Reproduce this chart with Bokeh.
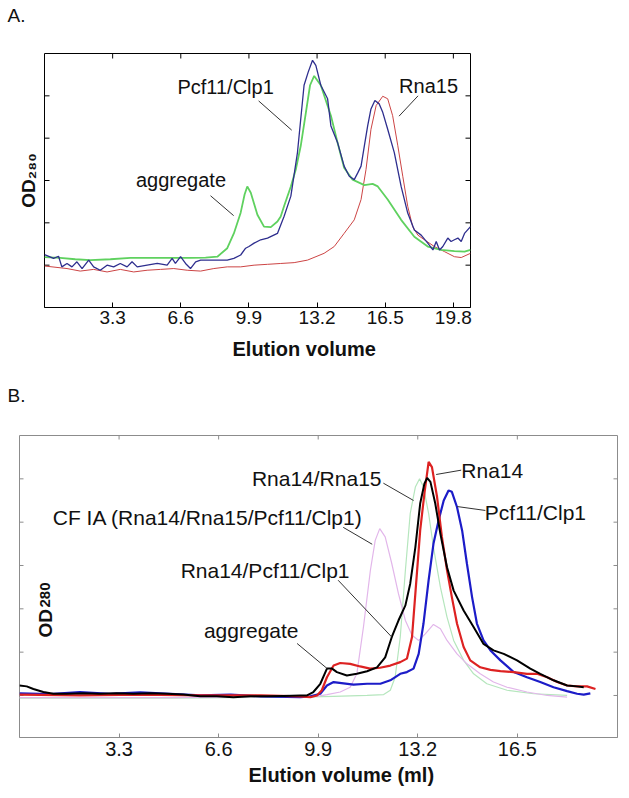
import math
from bokeh.plotting import figure
from bokeh.layouts import column
from bokeh.models import Label, Title, FixedTicker, Range1d
from bokeh.embed import file_html
from bokeh.resources import INLINE

FONT = "Liberation Sans"

# ---------------- Panel A data ----------------
A_x_range = (0.0, 20.63)
A_y_range = (-1.0, 5.0)
A_ticks_x = [3.3, 6.6, 9.9, 13.2, 16.5, 19.8]
A_tick_labels = ["3.3", "6.6", "9.9", "13.2", "16.5", "19.8"]
A_ticks_y = [0, 1, 2, 3, 4]

A_green_x = [0.0, 0.76, 1.49, 2.22, 3.19, 4.16, 5.13, 6.10, 7.07, 7.80, 8.37, 8.85, 9.17, 9.50, 9.69,
             9.82, 9.99, 10.31, 10.63, 10.96, 11.28, 11.44, 11.60, 11.93, 12.17, 12.41, 12.66, 12.86, 13.06, 13.38,
             13.87, 14.19, 14.51, 14.92, 15.49, 15.89, 16.14, 16.62, 17.27, 17.91, 18.56, 19.21, 19.85, 20.34, 20.63]
A_green_y = [0.19, 0.17, 0.14, 0.12, 0.14, 0.17, 0.17, 0.17, 0.17, 0.18, 0.20, 0.40, 0.75, 1.24, 1.67,
             1.86, 1.71, 1.19, 0.91, 0.90, 1.03, 1.15, 1.39, 1.86, 2.26, 2.82, 3.61, 4.25, 4.47, 4.25,
             3.53, 2.90, 2.30, 2.02, 1.89, 1.92, 1.86, 1.55, 1.07, 0.67, 0.44, 0.36, 0.33, 0.32, 0.36]

A_blue_x = [0.0, 0.44, 0.68, 0.84, 1.09, 1.33, 1.57, 1.82, 2.14, 2.38, 2.70, 3.03, 3.35, 3.67, 4.00,
            4.24, 4.49, 4.97, 5.46, 5.94, 6.18, 6.34, 6.59, 6.83, 7.07, 7.32, 7.56, 8.20, 8.85, 9.17,
            9.50, 9.74, 9.90, 10.15, 10.47, 10.80, 11.28, 11.60, 11.93, 12.25, 12.57, 12.77, 12.98, 13.14, 13.38,
            13.71, 13.87, 14.19, 14.51, 14.76, 15.00, 15.17, 15.33, 15.49, 15.65, 15.81, 16.00, 16.21, 16.38, 16.62,
            16.94, 17.27, 17.59, 17.91, 18.24, 18.56, 18.81, 18.97, 19.13, 19.29, 19.53, 19.69, 19.85, 20.02, 20.18,
            20.34, 20.63]
A_blue_y = [0.25, 0.16, 0.21, -0.04, 0.04, -0.04, 0.08, -0.08, 0.12, -0.04, -0.12, 0.00, -0.04, 0.04, -0.04,
            0.08, -0.04, 0.00, 0.04, 0.00, 0.16, 0.04, 0.20, 0.04, -0.08, 0.08, 0.12, 0.12, 0.12, 0.16,
            0.24, 0.40, 0.44, 0.52, 0.60, 0.64, 0.75, 1.15, 1.63, 2.66, 4.25, 4.56, 4.84, 4.72, 4.25,
            3.93, 3.29, 2.90, 2.34, 2.10, 2.02, 2.18, 2.34, 2.82, 3.29, 3.69, 3.89, 3.81, 3.61, 3.21,
            2.66, 1.86, 1.23, 0.83, 0.71, 0.52, 0.36, 0.56, 0.36, 0.44, 0.64, 0.56, 0.60, 0.64, 0.56,
            0.75, 0.91]

A_red_x = [0.0, 1.09, 1.73, 2.38, 3.03, 3.67, 4.32, 4.97, 5.62, 6.26, 6.91, 7.56, 8.20, 8.85, 9.50,
           10.15, 10.80, 11.44, 12.09, 12.74, 13.54, 14.03, 14.51, 15.00, 15.33, 15.57, 15.81, 16.06, 16.38, 16.62,
           16.86, 17.11, 17.35, 17.59, 17.83, 18.08, 18.40, 18.88, 19.37, 19.85, 20.18, 20.63]
A_red_y = [-0.02, -0.08, -0.14, -0.10, -0.16, -0.10, -0.16, -0.12, -0.10, -0.08, -0.12, -0.14, -0.08, -0.04, -0.04,
           0.00, 0.02, 0.04, 0.06, 0.12, 0.28, 0.44, 0.75, 1.07, 1.55, 2.26, 3.21, 3.77, 3.99, 3.93,
           3.53, 2.82, 2.10, 1.39, 0.91, 0.71, 0.60, 0.44, 0.32, 0.20, 0.18, 0.28]

A_ann_text = ["Pcf11/Clp1", "aggregate", "Rna15"]
A_ann_x = [8.77, 6.61, 18.60]
A_ann_y = [4.21, 2.02, 4.24]
A_lead_x0 = [10.37, 8.04, 18.09]
A_lead_y0 = [3.88, 1.64, 4.00]
A_lead_x1 = [11.97, 9.16, 17.17]
A_lead_y1 = [3.19, 1.17, 3.52]

# ---------------- Panel B data ----------------
B_x_range = (0.0, 19.82)
B_y_range = (-0.97, 6.0)
B_ticks_x = [3.3, 6.6, 9.9, 13.2, 16.5]
B_tick_labels = ["3.3", "6.6", "9.9", "13.2", "16.5"]
B_ticks_y = [0, 1, 2, 3, 4, 5]

B_black_x = [0.0, 0.24, 0.46, 0.79, 1.12, 1.57, 2.12, 2.67, 3.22, 3.77, 4.33, 4.88, 5.43, 5.99, 6.54,
             7.09, 7.65, 8.20, 8.75, 9.30, 9.53, 9.74, 9.97, 10.19, 10.36, 10.52, 10.85, 11.18, 11.52, 11.85,
             12.12, 12.34, 12.56, 12.79, 12.95, 13.12, 13.28, 13.42, 13.51, 13.62, 13.78, 13.95, 14.17, 14.39, 14.72,
             15.05, 15.38, 15.71, 16.05, 16.49, 16.93, 17.26, 17.70, 18.15, 18.48, 18.70]
B_black_y = [0.23, 0.21, 0.15, 0.08, 0.04, 0.04, 0.05, 0.04, 0.05, 0.04, 0.05, 0.04, 0.02, -0.02, -0.02,
             -0.04, -0.02, -0.02, -0.01, 0.00, 0.00, 0.08, 0.27, 0.62, 0.62, 0.54, 0.46, 0.50, 0.56, 0.65,
             0.88, 1.35, 1.73, 2.08, 2.58, 3.42, 4.43, 4.89, 5.02, 4.93, 4.43, 3.73, 2.96, 2.42, 1.96,
             1.58, 1.19, 1.04, 0.96, 0.81, 0.62, 0.50, 0.35, 0.23, 0.21, 0.19]

B_red_x = [0.0, 2.0, 4.0, 6.0, 8.0, 9.30, 9.64, 9.86, 10.02, 10.19, 10.41, 10.63, 10.96, 11.29, 11.62,
           11.95, 12.29, 12.62, 12.84, 13.01, 13.12, 13.28, 13.42, 13.56, 13.67, 13.84, 14.00, 14.17, 14.33, 14.50,
           14.72, 14.94, 15.27, 15.61, 15.94, 16.38, 16.82, 17.15, 17.49, 17.82, 18.15, 18.48, 18.81, 19.09]
B_red_y = [0.02, 0.00, 0.02, 0.00, 0.00, -0.02, -0.04, 0.00, 0.12, 0.42, 0.69, 0.75, 0.73, 0.67, 0.62,
           0.64, 0.69, 0.77, 0.85, 1.35, 2.35, 3.81, 4.66, 5.39, 5.27, 4.58, 3.66, 2.89, 2.27, 1.66,
           1.12, 0.81, 0.65, 0.59, 0.56, 0.54, 0.50, 0.50, 0.42, 0.31, 0.23, 0.21, 0.21, 0.15]

B_blue_x = [0.0, 1.0, 2.0, 3.0, 4.0, 5.0, 6.0, 7.0, 8.0, 9.30, 9.64, 9.97, 10.19, 10.41, 10.74,
            11.07, 11.52, 11.96, 12.29, 12.62, 12.84, 13.06, 13.23, 13.39, 13.56, 13.72, 13.89, 14.06, 14.22, 14.33,
            14.50, 14.67, 14.83, 15.00, 15.16, 15.38, 15.61, 15.94, 16.38, 16.82, 17.26, 17.70, 18.15, 18.48, 18.70,
            18.92]
B_blue_y = [0.05, 0.03, 0.08, 0.04, 0.07, 0.04, 0.00, 0.02, -0.02, -0.04, -0.02, 0.04, 0.23, 0.31, 0.28,
            0.25, 0.27, 0.27, 0.35, 0.50, 0.54, 0.62, 0.96, 1.66, 2.66, 3.50, 4.04, 4.50, 4.73, 4.70,
            4.35, 3.81, 3.04, 2.27, 1.66, 1.27, 1.04, 0.81, 0.54, 0.42, 0.31, 0.19, 0.10, 0.04, 0.02,
            0.05]

B_pink_x = [0.0, 5.0, 9.30, 9.86, 10.19, 10.63, 10.96, 11.18, 11.40, 11.63, 11.79, 11.94, 12.12, 12.34, 12.56,
            12.79, 13.01, 13.23, 13.45, 13.72, 13.95, 14.17, 14.50, 14.83, 15.27, 15.71, 16.16, 16.82, 17.49, 18.15]
B_pink_y = [-0.05, -0.05, -0.02, -0.02, 0.02, 0.08, 0.19, 0.50, 1.58, 2.89, 3.58, 3.85, 3.66, 3.04, 2.35,
            1.73, 1.39, 1.27, 1.42, 1.64, 1.54, 1.27, 0.96, 0.73, 0.50, 0.31, 0.19, 0.08, 0.00, -0.04]

B_green_x = [0.0, 5.0, 9.30, 10.41, 11.52, 12.07, 12.29, 12.45, 12.62, 12.79, 12.95, 13.12, 13.26, 13.39, 13.56,
             13.72, 13.95, 14.17, 14.39, 14.72, 15.05, 15.49, 16.16, 17.04, 18.15]
B_green_y = [-0.06, -0.06, -0.04, -0.02, 0.00, 0.02, 0.12, 0.42, 1.35, 2.89, 4.20, 4.81, 5.00, 4.81, 4.20,
             3.42, 2.50, 1.81, 1.27, 0.81, 0.50, 0.27, 0.12, 0.04, 0.00]

B_ann_text = ["Rna14/Rna15", "Rna14", "Pcf11/Clp1", "CF IA (Rna14/Rna15/Pcf11/Clp1)", "Rna14/Pcf11/Clp1", "aggregate"]
B_ann_x = [9.85, 15.67, 17.10, 6.24, 8.14, 7.68]
B_ann_y = [5.01, 5.20, 4.23, 4.11, 2.89, 1.50]
B_lead_x0 = [12.06, 14.64, 15.44, 10.73, 10.56, 9.20]
B_lead_y0 = [4.90, 5.20, 4.27, 3.88, 2.66, 1.20]
B_lead_x1 = [13.06, 13.81, 14.51, 11.69, 12.35, 10.20]
B_lead_y1 = [4.50, 5.10, 4.36, 3.49, 1.34, 0.62]


def style_frame(p, xr, yr, xticks, xlabels, yticks, color, tick_len, label_size, standoff):
    ax = p.xaxis[0]
    ax.ticker = FixedTicker(ticks=xticks)
    ax.major_label_overrides = {t: l for t, l in zip(xticks, xlabels)}
    ax.axis_line_color = color
    ax.major_tick_line_color = color
    ax.major_tick_in = tick_len
    ax.major_tick_out = 0
    ax.minor_tick_line_color = None
    ax.major_label_text_font = FONT
    ax.major_label_text_font_size = label_size
    ax.major_label_text_color = "#111111"
    ax.major_label_standoff = standoff
    p.yaxis.visible = False
    p.xgrid.grid_line_color = None
    p.ygrid.grid_line_color = None
    p.outline_line_color = color
    # mirrored inward ticks on top, left and right (from the tick lists and ranges)
    p.ray(x=xticks, y=[yr[1]] * len(xticks), length=tick_len, length_units="screen",
          angle=-math.pi / 2, line_color=color, line_width=1)
    p.ray(x=[xr[0]] * len(yticks), y=yticks, length=tick_len, length_units="screen",
          angle=0.0, line_color=color, line_width=1)
    p.ray(x=[xr[1]] * len(yticks), y=yticks, length=tick_len, length_units="screen",
          angle=math.pi, line_color=color, line_width=1)


def lab(p, x, y, text, size="20px", style="normal", align="center", baseline="middle", angle=0.0):
    p.add_layout(Label(x=x, y=y, text=text, text_font=FONT, text_font_size=size,
                       text_font_style=style, text_align=align, text_baseline=baseline,
                       angle=angle, text_color="#111111"))


def title(p, text, loc, size, style="normal", align="center", offset=0, standoff=0, valign="bottom"):
    p.add_layout(Title(text=text, text_font=FONT, text_font_size=size, text_font_style=style,
                       text_color="#111111", align=align, offset=offset, standoff=standoff,
                       vertical_align=valign), loc)


def header(text, height, ypos):
    h = figure(width=100, height=height, x_range=Range1d(0, 100), y_range=Range1d(0, height),
               output_backend="svg", toolbar_location=None, min_border=0, frame_align=False)
    h.axis.visible = False
    h.grid.grid_line_color = None
    h.outline_line_color = None
    lab(h, 7, ypos, text, size="19px", align="left")
    return h


# ---------------- Figure A ----------------
hdrA = header("A.", 30, 15)
pA = figure(frame_width=426, frame_height=254, x_range=Range1d(*A_x_range), y_range=Range1d(*A_y_range),
            output_backend="svg", toolbar_location=None, frame_align=False,
            min_border_left=44, min_border_right=20, min_border_top=23, min_border_bottom=68,
            background_fill_color="white", border_fill_color="white")
style_frame(pA, A_x_range, A_y_range, A_ticks_x, A_tick_labels, A_ticks_y, "#000000", 5, "19px", 3)

pA.line(A_red_x, A_red_y, line_color="#cc4444", line_width=1.0)
pA.line(A_green_x, A_green_y, line_color="#5fd15f", line_width=1.8)
pA.line(A_blue_x, A_blue_y, line_color="#2e2e8e", line_width=1.3)
pA.segment(x0=A_lead_x0, y0=A_lead_y0, x1=A_lead_x1, y1=A_lead_y1, line_color="#333333", line_width=1)
for t, x, y in zip(A_ann_text, A_ann_x, A_ann_y):
    lab(pA, x, y, t, size="20px")

title(pA, "Elution volume", "below", "20px", style="bold", align="left", offset=188, standoff=19)
title(pA, "OD\u2082\u2088\u2080", "left", "19px", style="bold", align="center", offset=-2, standoff=12)

# ---------------- Figure B ----------------
hdrB = header("B.", 30, 10)
pB = figure(frame_width=598, frame_height=302, x_range=Range1d(*B_x_range), y_range=Range1d(*B_y_range),
            output_backend="svg", toolbar_location=None, frame_align=False,
            min_border_left=19, min_border_right=12, min_border_top=30, min_border_bottom=56,
            background_fill_color="white", border_fill_color="white")
style_frame(pB, B_x_range, B_y_range, B_ticks_x, B_tick_labels, B_ticks_y, "#8c8c8c", 4, "20px", 4)

pB.line(B_green_x, B_green_y, line_color="#b5e6bd", line_width=1.2)
pB.line(B_pink_x, B_pink_y, line_color="#e2b6ea", line_width=1.2)
pB.line(B_blue_x, B_blue_y, line_color="#1c1cc8", line_width=2.2)
pB.line(B_red_x, B_red_y, line_color="#dd2222", line_width=2.2)
pB.line(B_black_x, B_black_y, line_color="#000000", line_width=2.0)
pB.segment(x0=B_lead_x0, y0=B_lead_y0, x1=B_lead_x1, y1=B_lead_y1, line_color="#333333", line_width=1)
for t, x, y in zip(B_ann_text, B_ann_x, B_ann_y):
    lab(pB, x, y, t, size="21px")

lab(pB, 0.85, 1.34, "OD", size="19px", style="bold", align="left", baseline="alphabetic", angle=math.pi / 2)
lab(pB, 0.85, 2.03, "280", size="15px", style="bold", align="left", baseline="alphabetic", angle=math.pi / 2)

title(pB, "Elution volume (ml)", "below", "20px", style="bold", align="left", offset=229, standoff=6)

layout = column(hdrA, pA, hdrB, pB)
open("out.html", "w").write(file_html(layout, INLINE))
